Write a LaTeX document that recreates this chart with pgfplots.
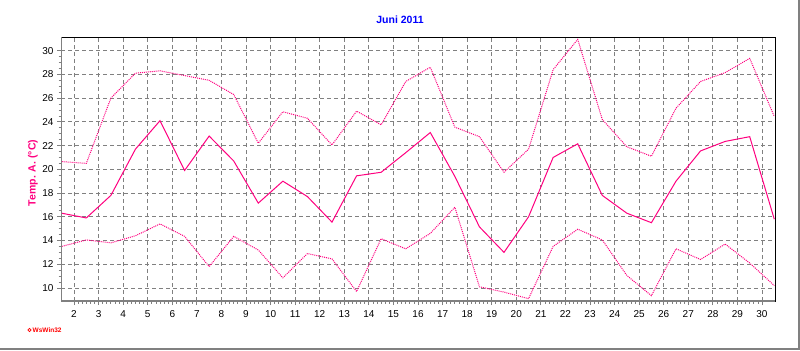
\documentclass[border=0pt]{standalone}
\usepackage{fontspec}
\setmainfont{Liberation Sans}
\usepackage{pgfplots}
\pgfplotsset{compat=1.18}
\definecolor{tpink}{RGB}{255,0,128}
\definecolor{gridgray}{RGB}{128,128,128}
\begin{document}
\begin{tikzpicture}[x=1bp,y=1bp]
\useasboundingbox (0,0) rectangle (800,-350);
\fill[white] (0,0) rectangle (800,-350);
\draw[gridgray,line width=1.5bp] (799,0) -- (799,-349.2) -- (0,-349.2);
\begin{axis}[
  at={(61bp,-301bp)}, anchor=south west,
  width=714bp, height=264bp, scale only axis,
  xmin=1.47, xmax=30.53, ymin=8.9, ymax=31.15,
  xtick={2,...,30}, ytick={10,12,...,30},
  minor x tick num=5, minor y tick num=3,
  tick pos=left, tick align=outside,
  major tick length=4bp, minor tick length=2.5bp,
  every tick/.style={gridgray, line width=0.8bp},
  grid=major,
  major grid style={gridgray, dash pattern=on 4bp off 3bp, line width=0.8bp},
  axis line style={black, line width=0.9bp},
  ticklabel style={font=\fontsize{10bp}{12bp}\selectfont},
  xticklabel style={yshift=-2bp},
  /pgf/number format/assume math mode=true,
  ylabel={Temp. A. (°C)},
  ylabel style={tpink, font=\bfseries\fontsize{10.5bp}{12bp}\selectfont, at={(rel axis cs:0,0.5)}, anchor=center, yshift=28bp, xshift=-4bp},
]
\addplot[tpink, line width=1bp, densely dotted] coordinates {
(1.5,13.5) (2.5,14.05) (3.5,13.8) (4.5,14.4) (5.5,15.4) (6.5,14.35) (7.5,11.8) (8.5,14.35) (9.5,13.2) (10.5,10.85)
(11.5,12.9) (12.5,12.45) (13.5,9.7) (14.5,14.15) (15.5,13.3) (16.5,14.6) (17.5,16.8) (18.5,10.1) (19.5,9.65) (20.5,9.1)
(21.5,13.5) (22.5,14.95) (23.5,14.05) (24.5,11.05) (25.5,9.35) (26.5,13.3) (27.5,12.4) (28.5,13.7) (29.5,12.1) (30.5,10.2)
};
\addplot[tpink, line width=1bp, densely dotted] coordinates {
(1.5,20.65) (2.5,20.5) (3.5,26.0) (4.5,28.1) (5.5,28.3) (6.5,27.9) (7.5,27.5) (8.5,26.3) (9.5,22.2) (10.5,24.85)
(11.5,24.3) (12.5,22.05) (13.5,24.9) (14.5,23.75) (15.5,27.4) (16.5,28.6) (17.5,23.55) (18.5,22.75) (19.5,19.75) (20.5,21.7)
(21.5,28.4) (22.5,30.95) (23.5,24.2) (24.5,21.9) (25.5,21.1) (26.5,25.15) (27.5,27.4) (28.5,28.15) (29.5,29.35) (30.5,24.45)
};
\addplot[tpink, line width=1bp] coordinates {
(1.5,16.3) (2.5,15.9) (3.5,17.8) (4.5,21.7) (5.5,24.1) (6.5,19.9) (7.5,22.8) (8.5,20.7) (9.5,17.15) (10.5,19.0)
(11.5,17.7) (12.5,15.55) (13.5,19.45) (14.5,19.75) (15.5,21.4) (16.5,23.1) (17.5,19.4) (18.5,15.15) (19.5,13.0) (20.5,16.0)
(21.5,21.0) (22.5,22.15) (23.5,17.8) (24.5,16.3) (25.5,15.5) (26.5,19.0) (27.5,21.55) (28.5,22.35) (29.5,22.75) (30.5,15.8)
};
\draw[gridgray, line width=2bp] (rel axis cs:0,1) -- (rel axis cs:0,0) -- (rel axis cs:1,0);
\end{axis}
\node[blue, font=\bfseries\fontsize{10.5bp}{12bp}\selectfont] at (400,-20) {Juni 2011};
\draw[red, line width=0.8bp] (29.5,-330) circle (1.6);
\node[red, font=\bfseries\fontsize{6.5bp}{7bp}\selectfont, anchor=west, inner sep=0pt] at (32.5,-330) {WsWin32};
\end{tikzpicture}
\end{document}
